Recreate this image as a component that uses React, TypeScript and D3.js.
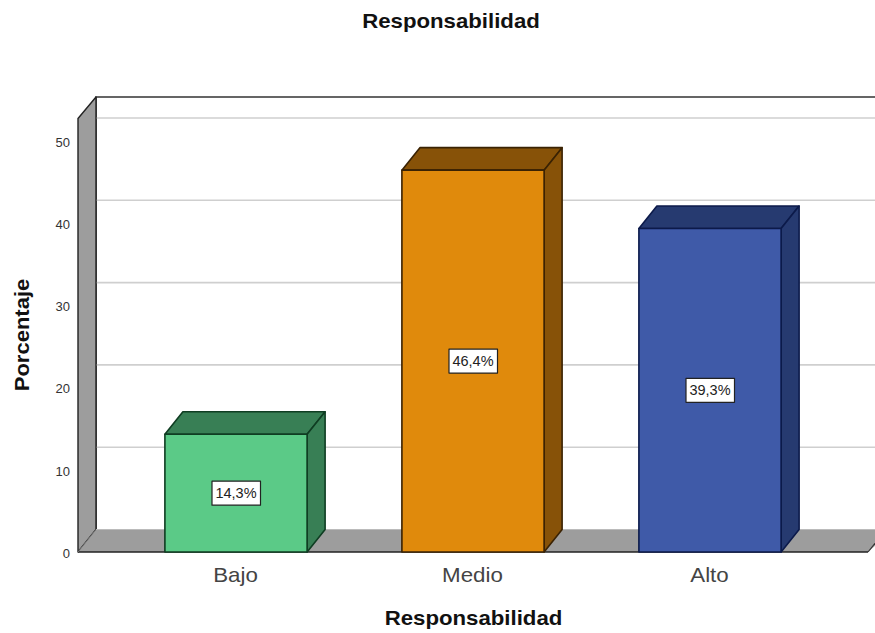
import React from "react";
import * as d3 from "d3";

const categories = ["Bajo", "Medio", "Alto"];
const percentages = [14.3, 46.4, 39.3];
const faceColors = ["#5bca87", "#e08a0c", "#3f5aa8"];
const sideColors = ["#387f55", "#875208", "#263a70"];
const edgeColors = ["#0f3d22", "#3a2203", "#0c1a4a"];
const yTicks = [0, 10, 20, 30, 40, 50];
const chartTitle = "Responsabilidad";
const xTitle = "Responsabilidad";
const yTitle = "Porcentaje";

const W = 875;
const H = 633;
const DEPTH_X = 18;
const DEPTH_Y = 22.5;
const FONT = "'Liberation Sans', Arial, sans-serif";

export default function App() {
  const y = d3.scaleLinear().domain([0, 50]).range([552, 140.5]);
  const x = d3.scaleBand<string>().domain(categories).range([117.5, 828.5]).padding(0.4).paddingOuter(0.2);
  const left = 78;
  const floorRight = 868;
  const wallTop = 118.5;
  const line = d3.line();

  return (
    <svg width={W} height={H} style={{ position: "absolute", left: 0, top: 0, background: "#fff" }}>
      {/* title, set slightly wide */}
      <text
        transform="translate(451,28) scale(1.14,1)"
        textAnchor="middle"
        fontFamily={FONT}
        fontWeight="bold"
        fontSize={19.5}
        fill="#111"
      >
        {chartTitle}
      </text>

      {/* back wall outline */}
      <path
        d={line([[left + DEPTH_X, y(0) - DEPTH_Y], [left + DEPTH_X, wallTop - DEPTH_Y + 1], [W, wallTop - DEPTH_Y + 1]]) ?? ""}
        fill="none"
        stroke="#333"
        strokeWidth={1.6}
      />

      {/* grid lines on the back wall */}
      {yTicks.filter((t) => t > 0).map((t) => (
        <line key={t} x1={left + DEPTH_X} x2={W} y1={y(t) - DEPTH_Y} y2={y(t) - DEPTH_Y} stroke="#cfcfcf" strokeWidth={1.6} />
      ))}

      {/* side wall */}
      <path
        d={line([[left, y(0)], [left, wallTop], [left + DEPTH_X, wallTop - DEPTH_Y + 1], [left + DEPTH_X, y(0) - DEPTH_Y]]) + "Z"}
        fill="#9d9d9d"
        stroke="#222"
        strokeWidth={1.4}
        strokeLinejoin="round"
      />

      {/* floor */}
      <path
        d={line([[left, y(0)], [left + DEPTH_X, y(0) - DEPTH_Y], [W + DEPTH_X, y(0) - DEPTH_Y], [floorRight, y(0)]]) + "Z"}
        fill="#9d9d9d"
        stroke="none"
      />
      <line x1={left} x2={floorRight} y1={y(0)} y2={y(0)} stroke="#222" strokeWidth={1.4} />
      <line x1={left} x2={left + DEPTH_X} y1={y(0)} y2={y(0) - DEPTH_Y} stroke="#777" strokeWidth={1} />
      <line x1={left + DEPTH_X} x2={W} y1={y(0) - DEPTH_Y} y2={y(0) - DEPTH_Y} stroke="#bbb" strokeWidth={1} />
      <line x1={floorRight} x2={W} y1={y(0)} y2={y(0) - (W - floorRight) * (DEPTH_Y / DEPTH_X)} stroke="#333" strokeWidth={1.2} />

      {/* value axis labels */}
      {yTicks.map((t) => (
        <text key={t} x={70} y={y(t) + 6 - (t === 0 ? 0.5 : 0)} textAnchor="end" fontFamily={FONT} fontSize={13} fill="#333">
          {t}
        </text>
      ))}

      {/* bars */}
      {categories.map((c, i) => {
        const x0 = x(c) as number;
        const x1 = x0 + x.bandwidth();
        const top = y(percentages[i]);
        const bottom = y(0);
        const mid = (top + bottom) / 2;
        const cx = (x0 + x1) / 2;
        return (
          <g key={c} stroke={edgeColors[i]} strokeWidth={1.6} strokeLinejoin="round">
            <path
              d={line([[x0, top], [x0 + DEPTH_X, top - DEPTH_Y], [x1 + DEPTH_X, top - DEPTH_Y], [x1, top]]) + "Z"}
              fill={sideColors[i]}
            />
            <path
              d={line([[x1, top], [x1 + DEPTH_X, top - DEPTH_Y], [x1 + DEPTH_X, bottom - DEPTH_Y], [x1, bottom]]) + "Z"}
              fill={sideColors[i]}
            />
            <rect x={x0} y={top} width={x.bandwidth()} height={bottom - top} fill={faceColors[i]} />
            <rect x={cx - 24} y={mid - 12} width={48.5} height={24} fill="#fff" stroke="#222" strokeWidth={1.2} />
            <text x={cx} y={mid + 5} textAnchor="middle" fontFamily={FONT} fontSize={14.5} fill="#222" stroke="none">
              {`${percentages[i].toFixed(1).replace(".", ",")}%`}
            </text>
          </g>
        );
      })}

      {/* category labels */}
      {categories.map((c) => (
        <text
          key={c}
          transform={`translate(${(x(c) as number) + x.bandwidth() / 2 - 0.5},582) scale(1.09,1)`}
          textAnchor="middle"
          fontFamily={FONT}
          fontSize={20.5}
          fill="#444"
        >
          {c}
        </text>
      ))}

      {/* axis titles */}
      <text
        transform="translate(473.5,625) scale(1.14,1)"
        textAnchor="middle"
        fontFamily={FONT}
        fontWeight="bold"
        fontSize={19.5}
        fill="#111"
      >
        {xTitle}
      </text>
      <text
        transform="translate(29,335) rotate(-90) scale(1.13,1)"
        textAnchor="middle"
        fontFamily={FONT}
        fontWeight="bold"
        fontSize={19.5}
        fill="#111"
      >
        {yTitle}
      </text>
    </svg>
  );
}
